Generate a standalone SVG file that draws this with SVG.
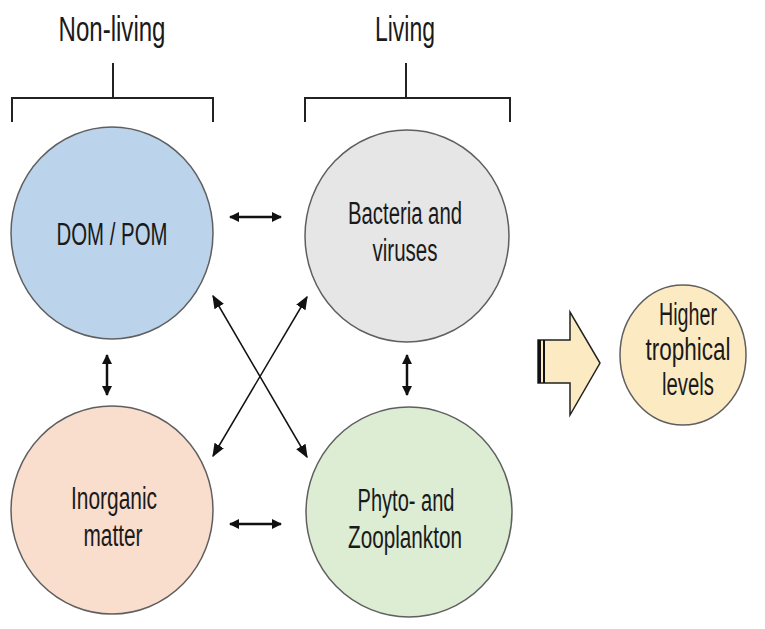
<svg xmlns="http://www.w3.org/2000/svg" width="765" height="629" viewBox="0 0 765 629">
<style>
text{font-family:"Liberation Sans",Arial,sans-serif;fill:#1a1a1a;text-anchor:middle}
.lbl{font-size:31px}
.hdr{font-size:35px}
.c{stroke:#5f5f5f;stroke-width:1.5}
.br{fill:none;stroke:#222;stroke-width:2}
.ar{stroke:#111;stroke-width:2.5;fill:none;marker-start:url(#h);marker-end:url(#h)}
.ad{stroke:#111;stroke-width:1.5;fill:none;marker-start:url(#hb);marker-end:url(#hb)}
</style>
<defs>
<marker id="h" viewBox="0 0 10 10" refX="9" refY="5" markerWidth="4" markerHeight="4" orient="auto-start-reverse"><path d="M0,0L10,5L0,10z" fill="#111"/></marker>
<marker id="hb" viewBox="0 0 10 10" refX="9" refY="5" markerWidth="9" markerHeight="9" orient="auto-start-reverse"><path d="M0,1L10,5L0,9z" fill="#111"/></marker>
</defs>
<rect width="765" height="629" fill="#fff"/>
<g id="nonliving">
<text class="hdr" x="112" y="41" textLength="107" lengthAdjust="spacingAndGlyphs">Non-living</text>
<path class="br" d="M12,122V98H213V122M113,98V63"/>
</g>
<g id="living">
<text class="hdr" x="405" y="41" textLength="60" lengthAdjust="spacingAndGlyphs">Living</text>
<path class="br" d="M305,122V98H510V122M406,98V63"/>
</g>
<g id="dom"><ellipse class="c" cx="112" cy="233" rx="101" ry="106" fill="#bcd3ec"/><text class="lbl" x="112" y="245" textLength="111" lengthAdjust="spacingAndGlyphs">DOM / POM</text></g>
<g id="bacteria"><ellipse class="c" cx="407" cy="236" rx="102" ry="106" fill="#e6e6e6"/><text class="lbl" x="405" y="224" textLength="114" lengthAdjust="spacingAndGlyphs">Bacteria and</text><text class="lbl" x="405" y="261" textLength="65" lengthAdjust="spacingAndGlyphs">viruses</text></g>
<g id="inorganic"><ellipse class="c" cx="112" cy="510" rx="101" ry="104" fill="#f9ddcd"/><text class="lbl" x="114" y="509" textLength="86" lengthAdjust="spacingAndGlyphs">Inorganic</text><text class="lbl" x="113" y="546" textLength="59" lengthAdjust="spacingAndGlyphs">matter</text></g>
<g id="phyto"><ellipse class="c" cx="409" cy="512" rx="103" ry="105" fill="#dcedd4"/><text class="lbl" x="406" y="511" textLength="97" lengthAdjust="spacingAndGlyphs">Phyto- and</text><text class="lbl" x="405" y="548" textLength="114" lengthAdjust="spacingAndGlyphs">Zooplankton</text></g>
<g id="higher"><ellipse class="c" cx="683" cy="355" rx="63" ry="70" fill="#fcebc2"/><text class="lbl" x="688" y="325" textLength="58" lengthAdjust="spacingAndGlyphs">Higher</text><text class="lbl" x="688" y="360" textLength="85" lengthAdjust="spacingAndGlyphs">trophical</text><text class="lbl" x="688" y="395" textLength="52" lengthAdjust="spacingAndGlyphs">levels</text></g>
<g id="connectors">
<line class="ar" x1="230" y1="217" x2="281" y2="217"/>
<line class="ar" x1="230" y1="524" x2="281" y2="524"/>
<line class="ar" x1="107" y1="355" x2="107" y2="395"/>
<line class="ar" x1="407" y1="355" x2="407" y2="395"/>
<line class="ad" x1="213" y1="296" x2="307" y2="457"/>
<line class="ad" x1="307" y1="297" x2="213" y2="456"/>
<g id="bigarrow">
<path d="M538,340H570V312L600,363L570,415V383H538Z" fill="#fcebc2" stroke="#222" stroke-width="1.5"/>
<rect x="538" y="340" width="3" height="43" fill="#111"/>
<rect x="543" y="340" width="2" height="43" fill="#111"/>
</g>
</g>
</svg>
